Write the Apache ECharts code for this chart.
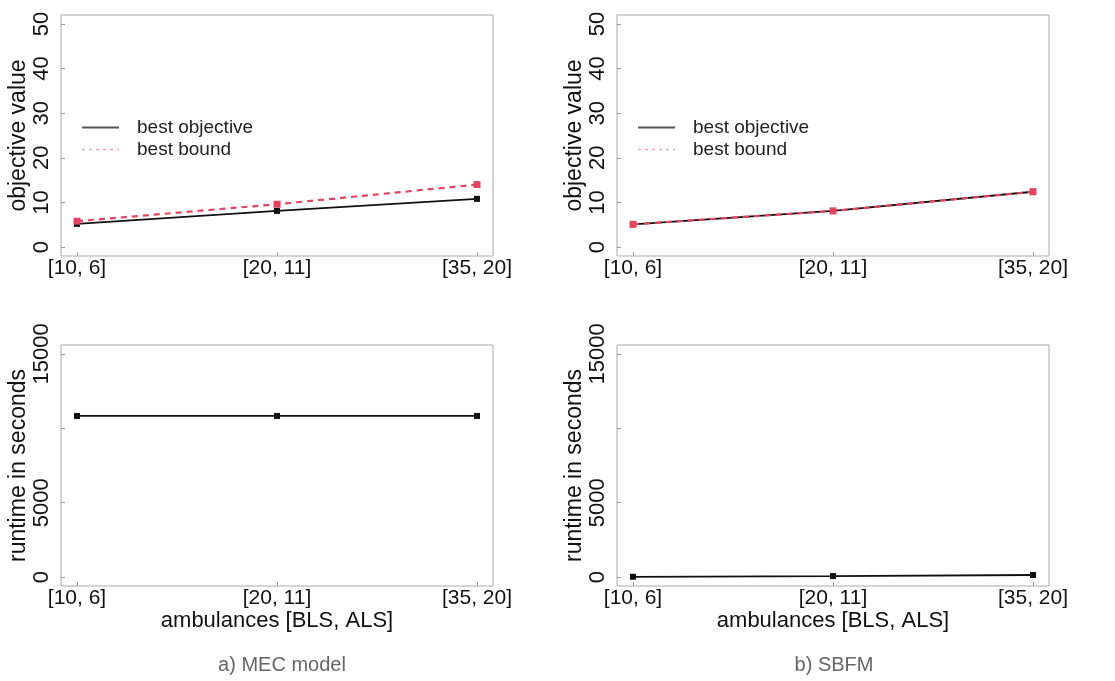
<!DOCTYPE html>
<html>
<head>
<meta charset="utf-8">
<script src="https://cdn.jsdelivr.net/npm/echarts@6/dist/echarts.min.js"></script>
<style>
  html, body { margin: 0; padding: 0; background: #fff; }
  #chart { width: 1115px; height: 681px; }
</style>
</head>
<body>
<div id="chart"></div>
<script>
// ambulance fleet sizes [BLS, ALS]
const ambulances = ['[10, 6]', '[20, 11]', '[35, 20]']

// a) MEC model
const mecObjective = [5.2, 8.1, 10.8]
const mecBound = [5.8, 9.6, 14.0]
const mecRuntime = [10830, 10830, 10830]

// b) SBFM
const sbfmObjective = [5.1, 8.1, 12.4]
const sbfmBound = [5.1, 8.1, 12.4]
const sbfmRuntime = [20, 70, 140]

const objTicks = [0, 10, 20, 30, 40, 50]
const runTicks = [0, 5000, 10000, 15000]
const runLabels = [0, 5000, 15000]

const font = 'Liberation Sans, Arial, Helvetica, sans-serif'
const red = '#e5435e'

const toPoints = arr => arr.map((v, i) => [i, v])

const grids = [
    { left: 61, top: 15, width: 432, height: 241 },
    { left: 617, top: 15, width: 432, height: 241 },
    { left: 61, top: 345, width: 432, height: 241 },
    { left: 617, top: 345, width: 432, height: 241 }
].map(g => ({ ...g, show: true, borderColor: '#aaa', borderWidth: 1, backgroundColor: 'transparent' }))

function xAxis(idx, withName) {
    return {
        gridIndex: idx,
        type: 'value',
        min: -0.08,
        max: 2.08,
        name: withName ? 'ambulances [BLS, ALS]' : '',
        nameLocation: 'middle',
        nameGap: 24,
        nameTextStyle: { fontFamily: font, fontSize: 22, color: '#111' },
        axisLine: { show: false, onZero: false },
        splitLine: { show: false },
        axisTick: { inside: true, length: 4, lineStyle: { color: '#999' }, customValues: [0, 1, 2] },
        axisLabel: {
            customValues: [0, 1, 2],
            formatter: v => ambulances[Math.round(v)],
            fontFamily: font, fontSize: 21, color: '#111', margin: 2
        }
    }
}

function yAxis(idx, name, min, max, ticks, labels) {
    return {
        gridIndex: idx,
        type: 'value',
        min: min,
        max: max,
        name: name,
        nameLocation: 'middle',
        nameGap: 30,
        nameTextStyle: { fontFamily: font, fontSize: 23, color: '#111' },
        axisLine: { show: false, onZero: false },
        splitLine: { show: false },
        axisTick: { inside: true, length: 4, lineStyle: { color: '#999' }, customValues: ticks },
        axisLabel: {
            customValues: labels,
            formatter: v => String(v),
            rotate: 90,
            fontFamily: font, fontSize: 22, color: '#111', margin: 8
        }
    }
}

function lineSeries(name, idx, data, isBound) {
    return {
        name: name,
        type: 'line',
        xAxisIndex: idx,
        yAxisIndex: idx,
        data: toPoints(data),
        symbol: 'rect',
        symbolSize: isBound ? 7 : 6,
        color: isBound ? red : '#111',
        lineStyle: isBound
            ? { color: red, width: 2.2, type: [6, 5] }
            : { color: '#111', width: 1.8 },
        itemStyle: { color: isBound ? red : '#111' },
        z: isBound ? 3 : 2
    }
}

function legend(left) {
    return {
        left: left,
        top: 113,
        orient: 'vertical',
        itemWidth: 37,
        itemHeight: 14,
        itemGap: 3,
        selectedMode: false,
        itemStyle: { opacity: 0 },
        textStyle: { fontFamily: font, fontSize: 19, color: '#222', padding: [0, 0, 0, 13] },
        data: [
            { name: 'best objective', lineStyle: { color: '#555', width: 2, type: 'solid' } },
            { name: 'best bound', lineStyle: { color: '#f4a3b1', width: 1.5, type: [3, 4] } }
        ]
    }
}

let chart = echarts.init(document.getElementById('chart'))

let option = {
    animation: false,
    backgroundColor: '#fff',
    title: [
        { text: 'a) MEC model', left: 277, top: 650, textAlign: 'center',
          textStyle: { fontFamily: font, fontSize: 20, fontWeight: 'normal', color: '#666' } },
        { text: 'b) SBFM', left: 829, top: 650, textAlign: 'center',
          textStyle: { fontFamily: font, fontSize: 20, fontWeight: 'normal', color: '#666' } }
    ],
    legend: [legend(76), legend(632)],
    grid: grids,
    xAxis: [xAxis(0, false), xAxis(1, false), xAxis(2, true), xAxis(3, true)],
    yAxis: [
        yAxis(0, 'objective value', -2, 52, objTicks, objTicks),
        yAxis(1, 'objective value', -2, 52, objTicks, objTicks),
        yAxis(2, 'runtime in seconds', -600, 15600, runTicks, runLabels),
        yAxis(3, 'runtime in seconds', -600, 15600, runTicks, runLabels)
    ],
    series: [
        lineSeries('best objective', 0, mecObjective, false),
        lineSeries('best bound', 0, mecBound, true),
        lineSeries('best objective', 1, sbfmObjective, false),
        lineSeries('best bound', 1, sbfmBound, true),
        lineSeries('runtime', 2, mecRuntime, false),
        lineSeries('runtime', 3, sbfmRuntime, false)
    ]
}

chart.setOption(option)
</script>
</body>
</html>
